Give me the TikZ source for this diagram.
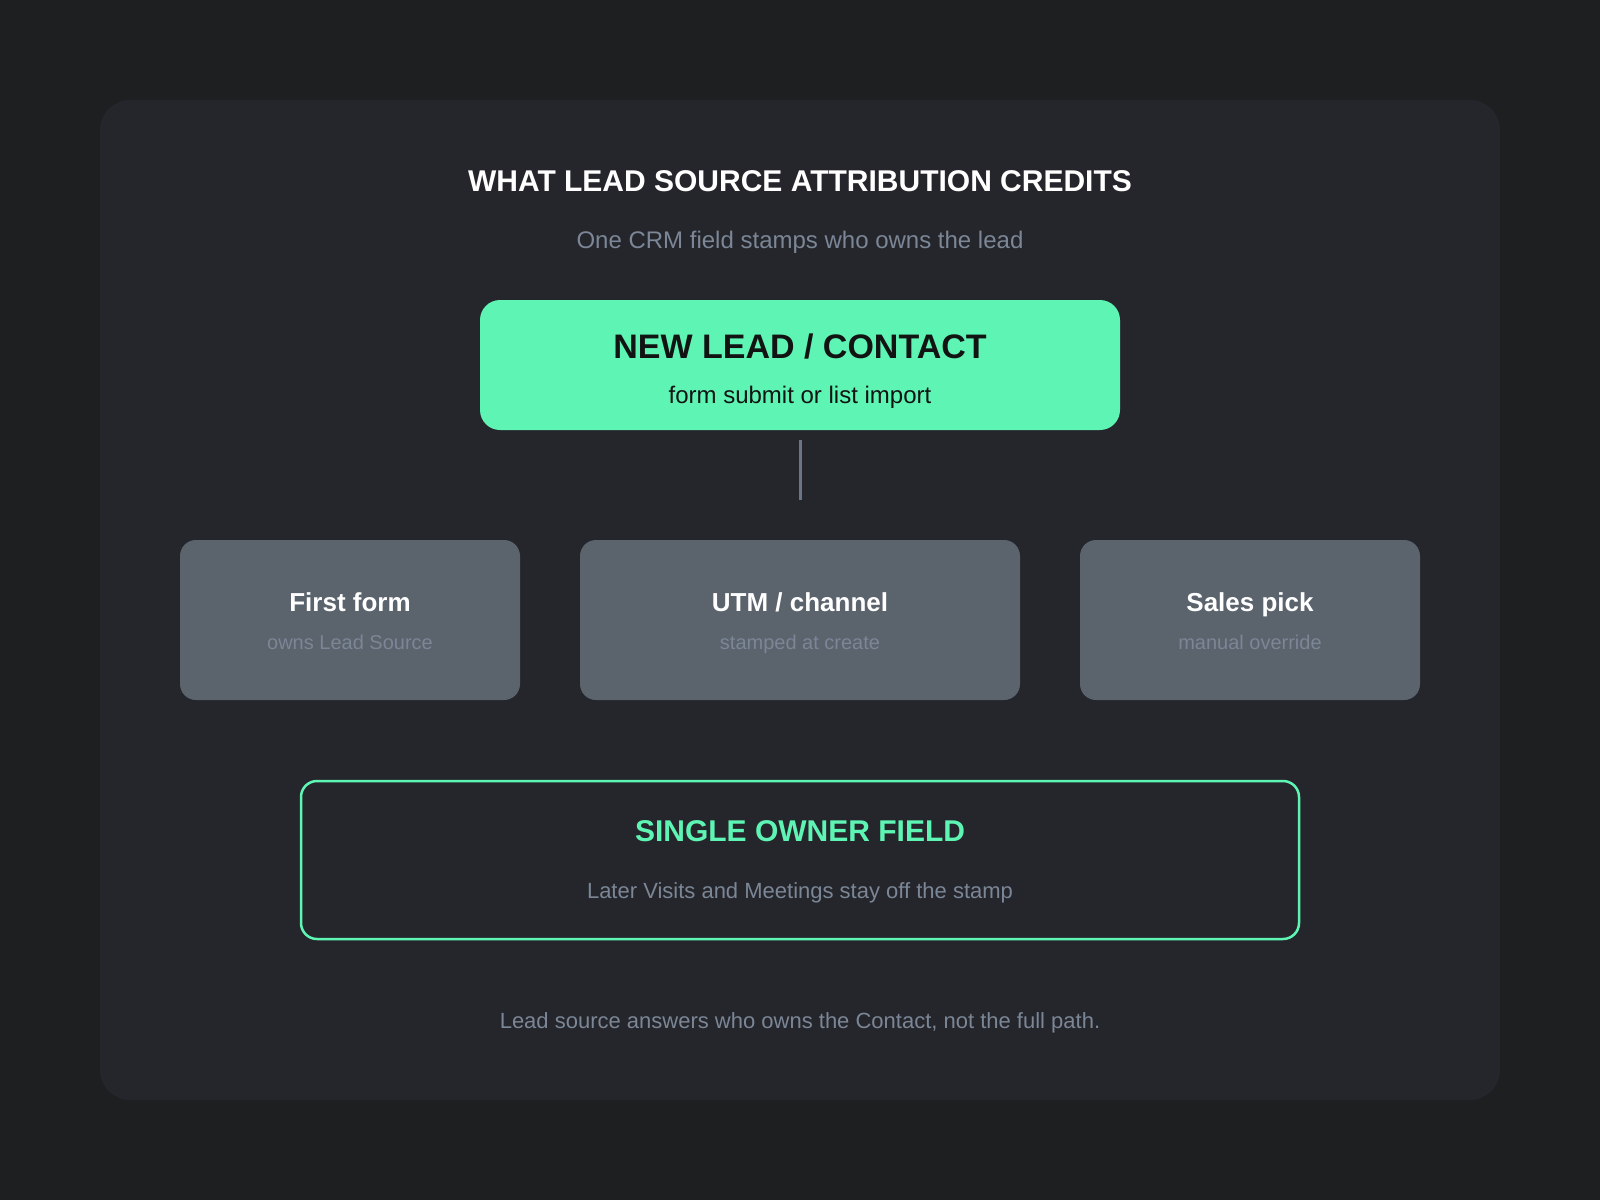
\documentclass[tikz,border=0pt]{standalone}
\usepackage{fontspec}
\setmainfont{Liberation Sans}
\usepackage{xcolor}
\usepackage{tikz}

\definecolor{pagebg}{HTML}{1E1F21}
\definecolor{panelbg}{HTML}{25262B}
\definecolor{leadgreen}{HTML}{5EF5B4}
\definecolor{cardgray}{HTML}{5B636D}
\definecolor{mutedtxt}{HTML}{7B8696}
\definecolor{linkgray}{HTML}{6B7585}
\definecolor{darktxt}{HTML}{111413}

\tikzset{
  card/.style={fill=cardgray,rounded corners=16pt,minimum height=160pt,inner sep=0pt},
  cardtitle/.style={anchor=base,text=white,font=\bfseries\fontsize{26}{30}\selectfont},
  cardsub/.style={anchor=base,text=mutedtxt,font=\fontsize{20}{24}\selectfont},
  link/.style={draw=linkgray,line width=3pt}
}

\begin{document}
\begin{tikzpicture}[x=1pt,y=-1pt]
\useasboundingbox (0,0) rectangle (1600,1200);
\fill[pagebg] (0,0) rectangle (1600,1200);
\fill[panelbg,rounded corners=30pt] (100,100) rectangle (1500,1100);

% Heading
\node[anchor=base,text=white,font=\bfseries\fontsize{30}{36}\selectfont] (title) at (800,191) {WHAT LEAD SOURCE ATTRIBUTION CREDITS};
\node[anchor=base,text=mutedtxt,font=\fontsize{24}{28}\selectfont] (subtitle) at (800,248) {One CRM field stamps who owns the lead};

% Lead box
\node[fill=leadgreen,rounded corners=20pt,minimum width=640pt,minimum height=130pt,inner sep=0pt] (lead) at (800,365) {};
\node[anchor=base,text=darktxt,font=\bfseries\fontsize{34}{40}\selectfont] (leadtitle) at (800,358) {NEW LEAD / CONTACT};
\node[anchor=base,text=darktxt,font=\fontsize{24}{28}\selectfont] (leadsub) at (800,403) {form submit or list import};

\coordinate (linkend) at (800,500);
\draw[link,shorten <=10pt] (lead.south) -- (linkend);

% Cards
\node[card,minimum width=340pt] (first) at (350,620) {};
\node[card,minimum width=440pt] (utm) at (800,620) {};
\node[card,minimum width=340pt] (sales) at (1250,620) {};
\node[cardtitle] (firsttitle) at (350,611) {First form};
\node[cardsub] (firstsub) at (350,649) {owns Lead Source};
\node[cardtitle] (utmtitle) at (800,611) {UTM / channel};
\node[cardsub] (utmsub) at (800,649) {stamped at create};
\node[cardtitle] (salestitle) at (1250,611) {Sales pick};
\node[cardsub] (salessub) at (1250,649) {manual override};

% Owner box
\node[draw=leadgreen,line width=2.5pt,rounded corners=16pt,minimum width=998pt,minimum height=158pt,inner sep=0pt] (owner) at (800,860) {};
\node[anchor=base,text=leadgreen,font=\bfseries\fontsize{30}{36}\selectfont] (ownertitle) at (800,841) {SINGLE OWNER FIELD};
\node[anchor=base,text=mutedtxt,font=\fontsize{22}{26}\selectfont] (ownersub) at (800,898) {Later Visits and Meetings stay off the stamp};

% Footer
\node[anchor=base,text=mutedtxt,font=\fontsize{22}{26}\selectfont] (footer) at (800,1028) {Lead source answers who owns the Contact, not the full path.};
\end{tikzpicture}
\end{document}
